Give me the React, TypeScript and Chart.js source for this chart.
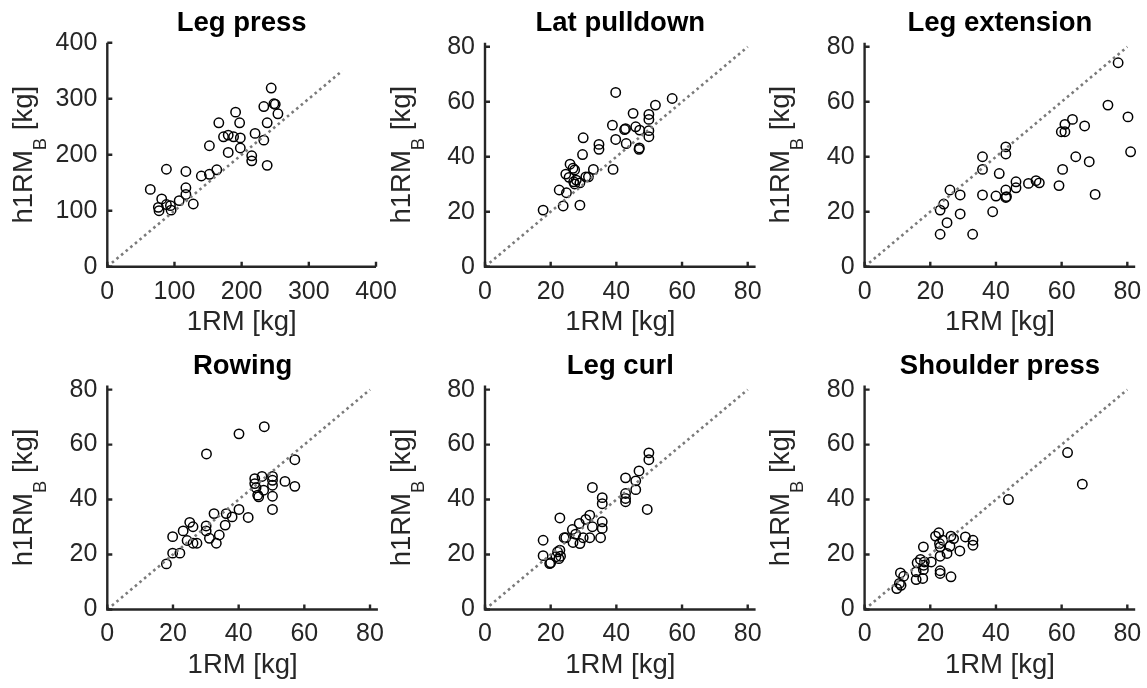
import React, { useEffect, useRef } from 'react';
import { Chart, registerables } from 'chart.js';

Chart.register(...registerables);

// ---------- data ----------
const titles = ['Leg press', 'Lat pulldown', 'Leg extension', 'Rowing', 'Leg curl', 'Shoulder press'];
const xLabel = '1RM [kg]';
const yLabelMain = 'h1RM';
const yLabelSub = 'B';
const yLabelUnit = ' [kg]';

const ticksLegPress = [0, 100, 200, 300, 400];
const ticksSmall = [0, 20, 40, 60, 80];

const legPressX = [64, 81, 76, 77, 88, 88, 94, 95, 107, 117, 117, 117, 128, 140, 152, 152, 163, 166, 173, 180, 180, 188, 191, 197, 198, 198, 215, 215, 220, 233, 233, 238, 238, 244, 248, 250, 254];
const legPressY = [138, 121, 106, 100, 174, 111, 109, 101, 118, 170, 141, 129, 112, 162, 165, 216, 173, 257, 232, 235, 204, 232, 276, 257, 230, 212, 198, 189, 238, 226, 286, 257, 181, 319, 291, 290, 273];

const latX = [17.7, 22.6, 23.8, 24.8, 24.6, 25.9, 25.6, 26.8, 27.3, 27.0, 27.3, 27.8, 28.9, 28.9, 29.7, 29.9, 30.7, 31.5, 33.0, 34.7, 34.7, 38.8, 39.0, 39.8, 39.8, 42.5, 43.0, 42.8, 45.1, 45.9, 47.1, 46.9, 47.0, 49.9, 49.9, 49.9, 49.9, 51.9, 57.0];
const latY = [20.6, 27.9, 22.1, 26.9, 33.7, 37.3, 32.5, 35.8, 35.2, 30.9, 30.1, 31.5, 22.4, 30.5, 40.8, 46.9, 32.7, 32.7, 35.4, 44.5, 42.7, 51.5, 35.4, 63.4, 46.3, 49.9, 44.8, 50.2, 55.8, 50.9, 49.7, 42.7, 43.2, 55.4, 53.6, 49.5, 47.3, 58.8, 61.2];

const extX = [23.0, 23.0, 24.1, 25.1, 26.0, 29.1, 29.1, 32.9, 35.9, 35.9, 35.9, 39.0, 40.0, 41.0, 43.0, 43.0, 43.0, 43.0, 43.2, 46.1, 46.1, 49.9, 52.2, 53.2, 59.2, 59.9, 60.3, 61.0, 61.0, 63.3, 64.3, 67.0, 68.4, 70.2, 74.1, 77.2, 80.2, 81.0];
const extY = [11.8, 20.6, 22.8, 16.0, 27.9, 26.1, 19.2, 11.8, 40.0, 35.4, 26.1, 20.0, 25.7, 33.9, 43.6, 41.0, 27.9, 25.2, 25.5, 30.9, 28.7, 30.3, 31.3, 30.5, 29.5, 49.1, 35.4, 49.1, 51.8, 53.6, 40.0, 51.2, 38.2, 26.3, 58.8, 74.2, 54.5, 41.8];

const rowX = [18.0, 19.9, 19.9, 22.1, 23.1, 24.3, 25.1, 26.1, 26.1, 27.3, 30.1, 30.1, 30.2, 31.1, 32.5, 33.2, 34.1, 35.9, 36.2, 38.0, 40.1, 40.1, 42.9, 44.9, 44.9, 45.3, 45.8, 46.1, 47.1, 47.6, 47.8, 50.3, 50.3, 50.3, 50.3, 50.3, 54.1, 57.1, 57.1];
const rowY = [16.6, 20.5, 26.5, 20.5, 28.6, 25.1, 31.7, 30.1, 24.1, 24.1, 30.4, 28.6, 56.6, 25.9, 34.9, 24.1, 27.1, 30.7, 34.9, 33.7, 36.4, 63.9, 33.5, 47.6, 45.8, 44.3, 41.6, 41.0, 48.4, 43.4, 66.5, 48.4, 47.0, 45.2, 41.2, 36.4, 46.6, 54.5, 44.8];

const curlX = [17.7, 17.7, 19.7, 20.0, 21.6, 22.1, 22.5, 22.8, 22.8, 23.0, 24.1, 24.6, 26.6, 26.8, 27.6, 28.7, 28.9, 29.9, 30.7, 31.9, 31.9, 32.7, 32.7, 35.2, 35.7, 35.7, 35.7, 35.7, 42.8, 42.8, 42.8, 42.8, 45.9, 45.9, 46.9, 49.4, 49.9, 49.9];
const curlY = [25.2, 19.6, 16.7, 17.0, 19.2, 21.0, 18.5, 21.6, 33.3, 19.4, 26.1, 26.1, 29.1, 24.4, 27.4, 31.3, 24.0, 26.1, 32.8, 34.3, 26.1, 44.4, 30.1, 26.1, 40.7, 38.5, 31.9, 29.5, 47.9, 42.2, 40.4, 39.2, 46.8, 43.6, 50.4, 36.4, 57.0, 54.5];

const shoulderX = [9.8, 10.6, 10.9, 11.1, 11.9, 15.7, 15.7, 16.0, 17.0, 17.7, 17.9, 17.9, 18.2, 18.0, 20.3, 21.6, 22.6, 22.8, 23.0, 23.0, 23.0, 23.0, 23.8, 25.1, 26.0, 26.3, 26.3, 27.1, 29.0, 30.7, 33.0, 33.0, 43.8, 61.8, 66.3];
const shoulderY = [7.6, 9.5, 13.3, 8.8, 12.1, 10.9, 13.7, 17.0, 18.2, 11.3, 22.8, 14.5, 17.3, 16.1, 17.3, 26.7, 27.9, 24.0, 22.8, 19.4, 14.1, 13.1, 25.2, 20.4, 23.0, 26.7, 11.9, 25.8, 21.3, 26.4, 25.2, 23.4, 40.0, 57.1, 45.6];

const panelX = [legPressX, latX, extX, rowX, curlX, shoulderX];
const panelY = [legPressY, latY, extY, rowY, curlY, shoulderY];
const panelTicks = [ticksLegPress, ticksSmall, ticksSmall, ticksSmall, ticksSmall, ticksSmall];
const panelXMax = [400, 82.4, 82.4, 82.4, 82.4, 82.4];
const panelYMax = [400, 81.5, 81.5, 81.5, 81.5, 81.5];
const panelLineEnd = [350, 80, 80, 80, 80, 80];

// ---------- layout / style ----------
const W = 1147;
const H = 688;
const CW = 1320;
const FONT = "'Liberation Sans', Arial, Helvetica, sans-serif";
const TEXT = '#262626';
const COL_LEFT = [107.3, 485, 864.6];
const ROW_TOP = [42.7, 385.5];
const PLOT_H = 224;
const Y_W = 70;
const X_H = 82;
const TITLE_SIZE = 27.5;
const TITLE_PAD = 2.4;
const TICK_SIZE = 25;
const LABEL_SIZE = 27.5;

function makePlugin(tickVals: number[]) {
  return {
    id: 'frameAndYLabel',
    afterDraw(chart: any) {
      const { ctx, chartArea: a, scales } = chart;
      ctx.save();
      ctx.strokeStyle = TEXT;
      ctx.lineWidth = 2.4;
      ctx.beginPath();
      ctx.moveTo(a.left, a.top);
      ctx.lineTo(a.left, a.bottom);
      ctx.lineTo(a.right, a.bottom);
      ctx.stroke();
      ctx.beginPath();
      tickVals.forEach((v) => {
        const px = scales.x.getPixelForValue(v);
        ctx.moveTo(px, a.bottom);
        ctx.lineTo(px, a.bottom - 5);
        const py = scales.y.getPixelForValue(v);
        ctx.moveTo(a.left, py);
        ctx.lineTo(a.left + 5, py);
      });
      ctx.stroke();

      // y label with subscript
      const mainFont = `${LABEL_SIZE}px ${FONT}`;
      const subFont = `18.5px ${FONT}`;
      ctx.font = mainFont;
      const w1 = ctx.measureText(yLabelMain).width;
      const w3 = ctx.measureText(yLabelUnit).width;
      ctx.font = subFont;
      const w2 = ctx.measureText(yLabelSub).width;
      const total = w1 + w2 + w3;
      ctx.translate(a.left - 75.5, (a.top + a.bottom) / 2);
      ctx.rotate(-Math.PI / 2);
      ctx.fillStyle = TEXT;
      ctx.textBaseline = 'alphabetic';
      ctx.textAlign = 'left';
      let x = -total / 2;
      ctx.font = mainFont;
      ctx.fillText(yLabelMain, x, 0);
      x += w1;
      ctx.font = subFont;
      ctx.fillText(yLabelSub, x, 14);
      x += w2;
      ctx.font = mainFont;
      ctx.fillText(yLabelUnit, x, 0);
      ctx.restore();
    },
  };
}

function Panel({ index }: { index: number }) {
  const ref = useRef<HTMLCanvasElement | null>(null);
  useEffect(() => {
    const col = index % 3;
    const row = Math.floor(index / 3);
    const plotLeft = COL_LEFT[col];
    const plotTop = ROW_TOP[row];
    const plotW = index === 0 ? 268.7 : 270.6;
    const tickVals = panelTicks[index];
    const xs = panelX[index];
    const ys = panelY[index];
    const points = xs.map((x, i) => ({ x, y: ys[i] }));
    const lineEnd = panelLineEnd[index];
    const titleLine = TITLE_SIZE * 1.2;
    const setTicks = (s: any) => {
      s.ticks = tickVals.map((v) => ({ value: v }));
    };
    const chart = new Chart(ref.current as HTMLCanvasElement, {
      type: 'scatter',
      data: {
        datasets: [
          {
            data: points,
            showLine: false,
            pointStyle: 'circle',
            pointRadius: 4.7,
            pointHoverRadius: 4.7,
            borderColor: '#000000',
            backgroundColor: 'rgba(0,0,0,0)',
            borderWidth: 1.5,
            clip: false,
            order: 1,
          } as any,
          {
            data: [
              { x: 0, y: 0 },
              { x: lineEnd, y: lineEnd },
            ],
            showLine: true,
            pointRadius: 0,
            borderColor: '#7a7a7a',
            borderWidth: 2.6,
            borderDash: [2.6, 3.4],
            fill: false,
            clip: false,
            order: 0,
          } as any,
        ],
      },
      options: {
        animation: false,
        responsive: false,
        devicePixelRatio: 1,
        events: [],
        layout: {
          padding: {
            left: plotLeft - Y_W,
            right: CW - (plotLeft + plotW),
            top: plotTop - titleLine - TITLE_PAD,
            bottom: H - (plotTop + PLOT_H) - X_H,
          },
        },
        plugins: {
          legend: { display: false },
          tooltip: { enabled: false },
          title: {
            display: true,
            text: titles[index],
            color: '#000000',
            fullSize: false,
            font: { family: FONT, size: TITLE_SIZE, weight: 'bold' },
            padding: { top: 0, bottom: TITLE_PAD },
          },
        },
        scales: {
          x: {
            type: 'linear',
            position: 'bottom',
            min: 0,
            max: panelXMax[index],
            afterBuildTicks: setTicks,
            afterFit: (s: any) => {
              s.height = X_H;
            },
            grid: { display: false, drawTicks: false },
            border: { display: false },
            ticks: {
              color: TEXT,
              padding: 10,
              autoSkip: false,
              maxRotation: 0,
              font: { family: FONT, size: TICK_SIZE },
            },
            title: {
              display: true,
              text: xLabel,
              color: TEXT,
              font: { family: FONT, size: LABEL_SIZE },
              padding: { top: 0, bottom: 10 },
            },
          },
          y: {
            type: 'linear',
            position: 'left',
            min: 0,
            max: panelYMax[index],
            afterBuildTicks: setTicks,
            afterFit: (s: any) => {
              s.width = Y_W;
            },
            grid: { display: false, drawTicks: false },
            border: { display: false },
            ticks: {
              color: TEXT,
              padding: 10,
              autoSkip: false,
              font: { family: FONT, size: TICK_SIZE },
            },
            title: { display: false },
          },
        },
      } as any,
      plugins: [makePlugin(tickVals)],
    });
    return () => chart.destroy();
  }, [index]);
  return (
    <canvas
      ref={ref}
      width={CW}
      height={H}
      style={{ position: 'absolute', left: 0, top: 0, width: CW, height: H }}
    />
  );
}

export default function App() {
  return (
    <div
      style={{
        position: 'fixed',
        left: 0,
        top: 0,
        width: W,
        height: H,
        overflow: 'hidden',
        background: '#ffffff',
      }}
    >
      {titles.map((_, i) => (
        <Panel key={i} index={i} />
      ))}
    </div>
  );
}
